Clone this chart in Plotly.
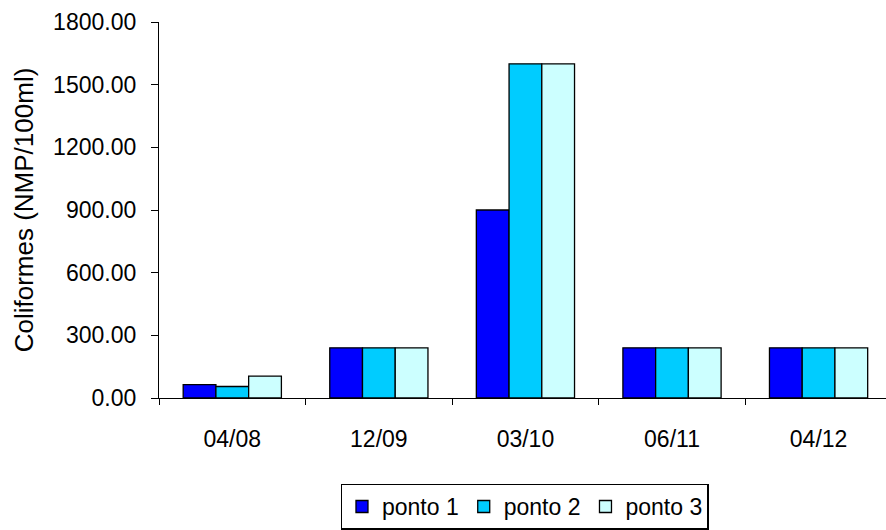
import plotly.graph_objects as go

# Sampling dates and coliform counts (NMP/100ml) per sampling point
datas = ["04/08", "12/09", "03/10", "06/11", "04/12"]
ponto_1 = [64, 240, 900, 240, 240]
ponto_2 = [55, 240, 1600, 240, 240]
ponto_3 = [105, 240, 1600, 240, 240]

series = [
    ("ponto 1", ponto_1, "#0000FF"),
    ("ponto 2", ponto_2, "#00CCFF"),
    ("ponto 3", ponto_3, "#CCFFFF"),
]

FONT = "Liberation Sans, Arial, sans-serif"
TXT = dict(family=FONT, size=23, color="#000000")

fig = go.Figure()
for name, vals, color in series:
    fig.add_trace(go.Bar(
        x=datas, y=vals, name=name,
        marker=dict(color=color, line=dict(color="#000000", width=1.3)),
    ))

fig.update_layout(
    width=886, height=530,
    margin=dict(l=159, r=0, t=22, b=132),
    paper_bgcolor="white", plot_bgcolor="white",
    barmode="group", bargap=0.33, bargroupgap=0,
    font=TXT,
    showlegend=True,
    legend=dict(
        orientation="h", x=0.503, xanchor="center", y=-0.228, yanchor="top",
        bordercolor="#000000", borderwidth=1.3,
        font=TXT, itemwidth=30, tracegroupgap=0,
    ),
)

fig.update_xaxes(
    type="category", range=[-0.5, 4.46],
    showline=True, linecolor="#000000", linewidth=1.3,
    ticks="outside", ticklen=6, tickwidth=1.3, tickcolor="#000000",
    tickson="boundaries", showgrid=False,
    ticklabelstandoff=20,
    tickfont=TXT,
)
fig.update_yaxes(
    range=[0, 1800], tickvals=[0, 300, 600, 900, 1200, 1500, 1800],
    tickformat=".2f",
    showline=True, linecolor="#000000", linewidth=1.3,
    ticks="outside", ticklen=7, tickwidth=1.3, tickcolor="#000000",
    showgrid=False, zeroline=False,
    ticklabelstandoff=10,
    tickfont=TXT,
    title=dict(text="Coliformes (NMP/100ml)", standoff=12,
               font=dict(family=FONT, size=26, color="#000000")),
)

fig.write_html("out.html")
